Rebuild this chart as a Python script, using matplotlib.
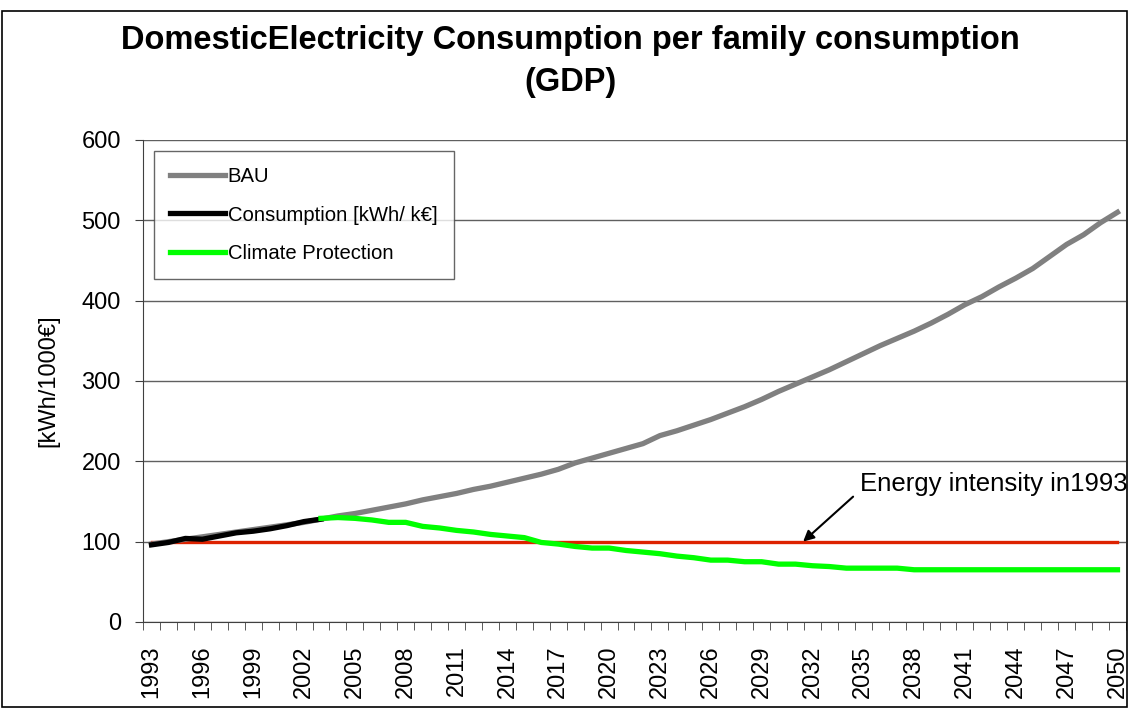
import numpy as np
import matplotlib
matplotlib.use('Agg')
import matplotlib.pyplot as plt

plt.rcParams['font.family'] = ['Liberation Sans', 'DejaVu Sans']

years = list(range(1993, 2051))

bau = [97, 100, 103, 106, 109, 112, 115, 118, 121, 124,
       128, 132, 135, 139, 143, 147, 152, 156, 160, 165,
       169, 174, 179, 184, 190, 198, 204, 210, 216, 222,
       232, 238, 245, 252, 260, 268, 277, 287, 296, 305,
       314, 324, 334, 344, 353, 362, 372, 383, 395, 405,
       417, 428, 440, 455, 470, 482, 497, 510]

consumption = [96, 99, 104, 103, 107, 111, 113, 116, 120, 125, 128]

climate = [129, 130, 129, 127, 124, 124, 119, 117, 114, 112,
           109, 107, 105, 99, 97, 94, 92, 92, 89, 87,
           85, 82, 80, 77, 77, 75, 75, 72, 72, 70,
           69, 67, 67, 67, 67, 65, 65, 65, 65, 65,
           65, 65, 65, 65, 65, 65, 65, 65]

intensity_1993 = [100] * len(years)

x = np.arange(len(years))

fig = plt.figure(figsize=(11.29, 7.08), dpi=100)
ax = fig.add_axes([0.1267, 0.1215, 0.8706, 0.6808])

ax.plot(x, intensity_1993, color='#dd2200', lw=2.4, zorder=3)
ax.plot(x, bau, color='#808080', lw=3.8, label='BAU', zorder=4)
ax.plot(x[:len(consumption)], consumption, color='black', lw=3.8,
        label='Consumption [kWh/ k€]', zorder=5)
ax.plot(x[len(years) - len(climate):], climate, color='#00ff00', lw=3.8,
        label='Climate Protection', zorder=5)

ax.set_xlim(-0.5, len(years) - 0.5)
ax.set_ylim(0, 600)
ax.set_yticks(range(0, 601, 100))
ax.yaxis.grid(True, color='#606060', lw=1)
ax.set_axisbelow(True)

ax.set_xticks(x[::3])
ax.set_xticklabels([str(y) for y in years[::3]], rotation=90)
ax.set_xticks(np.arange(-0.5, len(years), 1), minor=True)
ax.tick_params(axis='x', which='major', length=0, labelsize=17, pad=17)
ax.tick_params(axis='x', which='minor', length=6, direction='out', color='#404040')
ax.tick_params(axis='y', length=6, labelsize=17, pad=10, color='#404040')

ax.spines['top'].set_visible(False)
ax.spines['right'].set_visible(False)
ax.spines['left'].set_color('#404040')
ax.spines['bottom'].set_color('#404040')

ax.set_ylabel('[kWh/1000€]', fontsize=17, labelpad=16)

fig.suptitle('DomesticElectricity Consumption per family consumption\n(GDP)',
             fontsize=23.5, fontweight='bold', x=0.505, y=0.965, linespacing=1.45)

leg = ax.legend(loc='upper left', bbox_to_anchor=(0.011, 0.977), fontsize=14.6,
                frameon=True, fancybox=False, edgecolor='#404040',
                handlelength=2.7, handletextpad=0.15, borderaxespad=0,
                borderpad=0.8, labelspacing=0.95)
leg.get_frame().set_linewidth(1)

ax.text(41.8, 172, 'Energy intensity in1993', fontsize=18.5, ha='left', va='center')
ax.annotate('', xy=(38.45, 100), xytext=(41.4, 156),
            arrowprops=dict(arrowstyle='-|>', color='black', lw=1.5,
                            mutation_scale=16, shrinkA=0, shrinkB=0))

fig.patches.append(plt.Rectangle((0.002, 0.001), 0.996, 0.983, transform=fig.transFigure,
                                 fill=False, edgecolor='black', lw=1.2))

fig.savefig('out.png', dpi=100)
